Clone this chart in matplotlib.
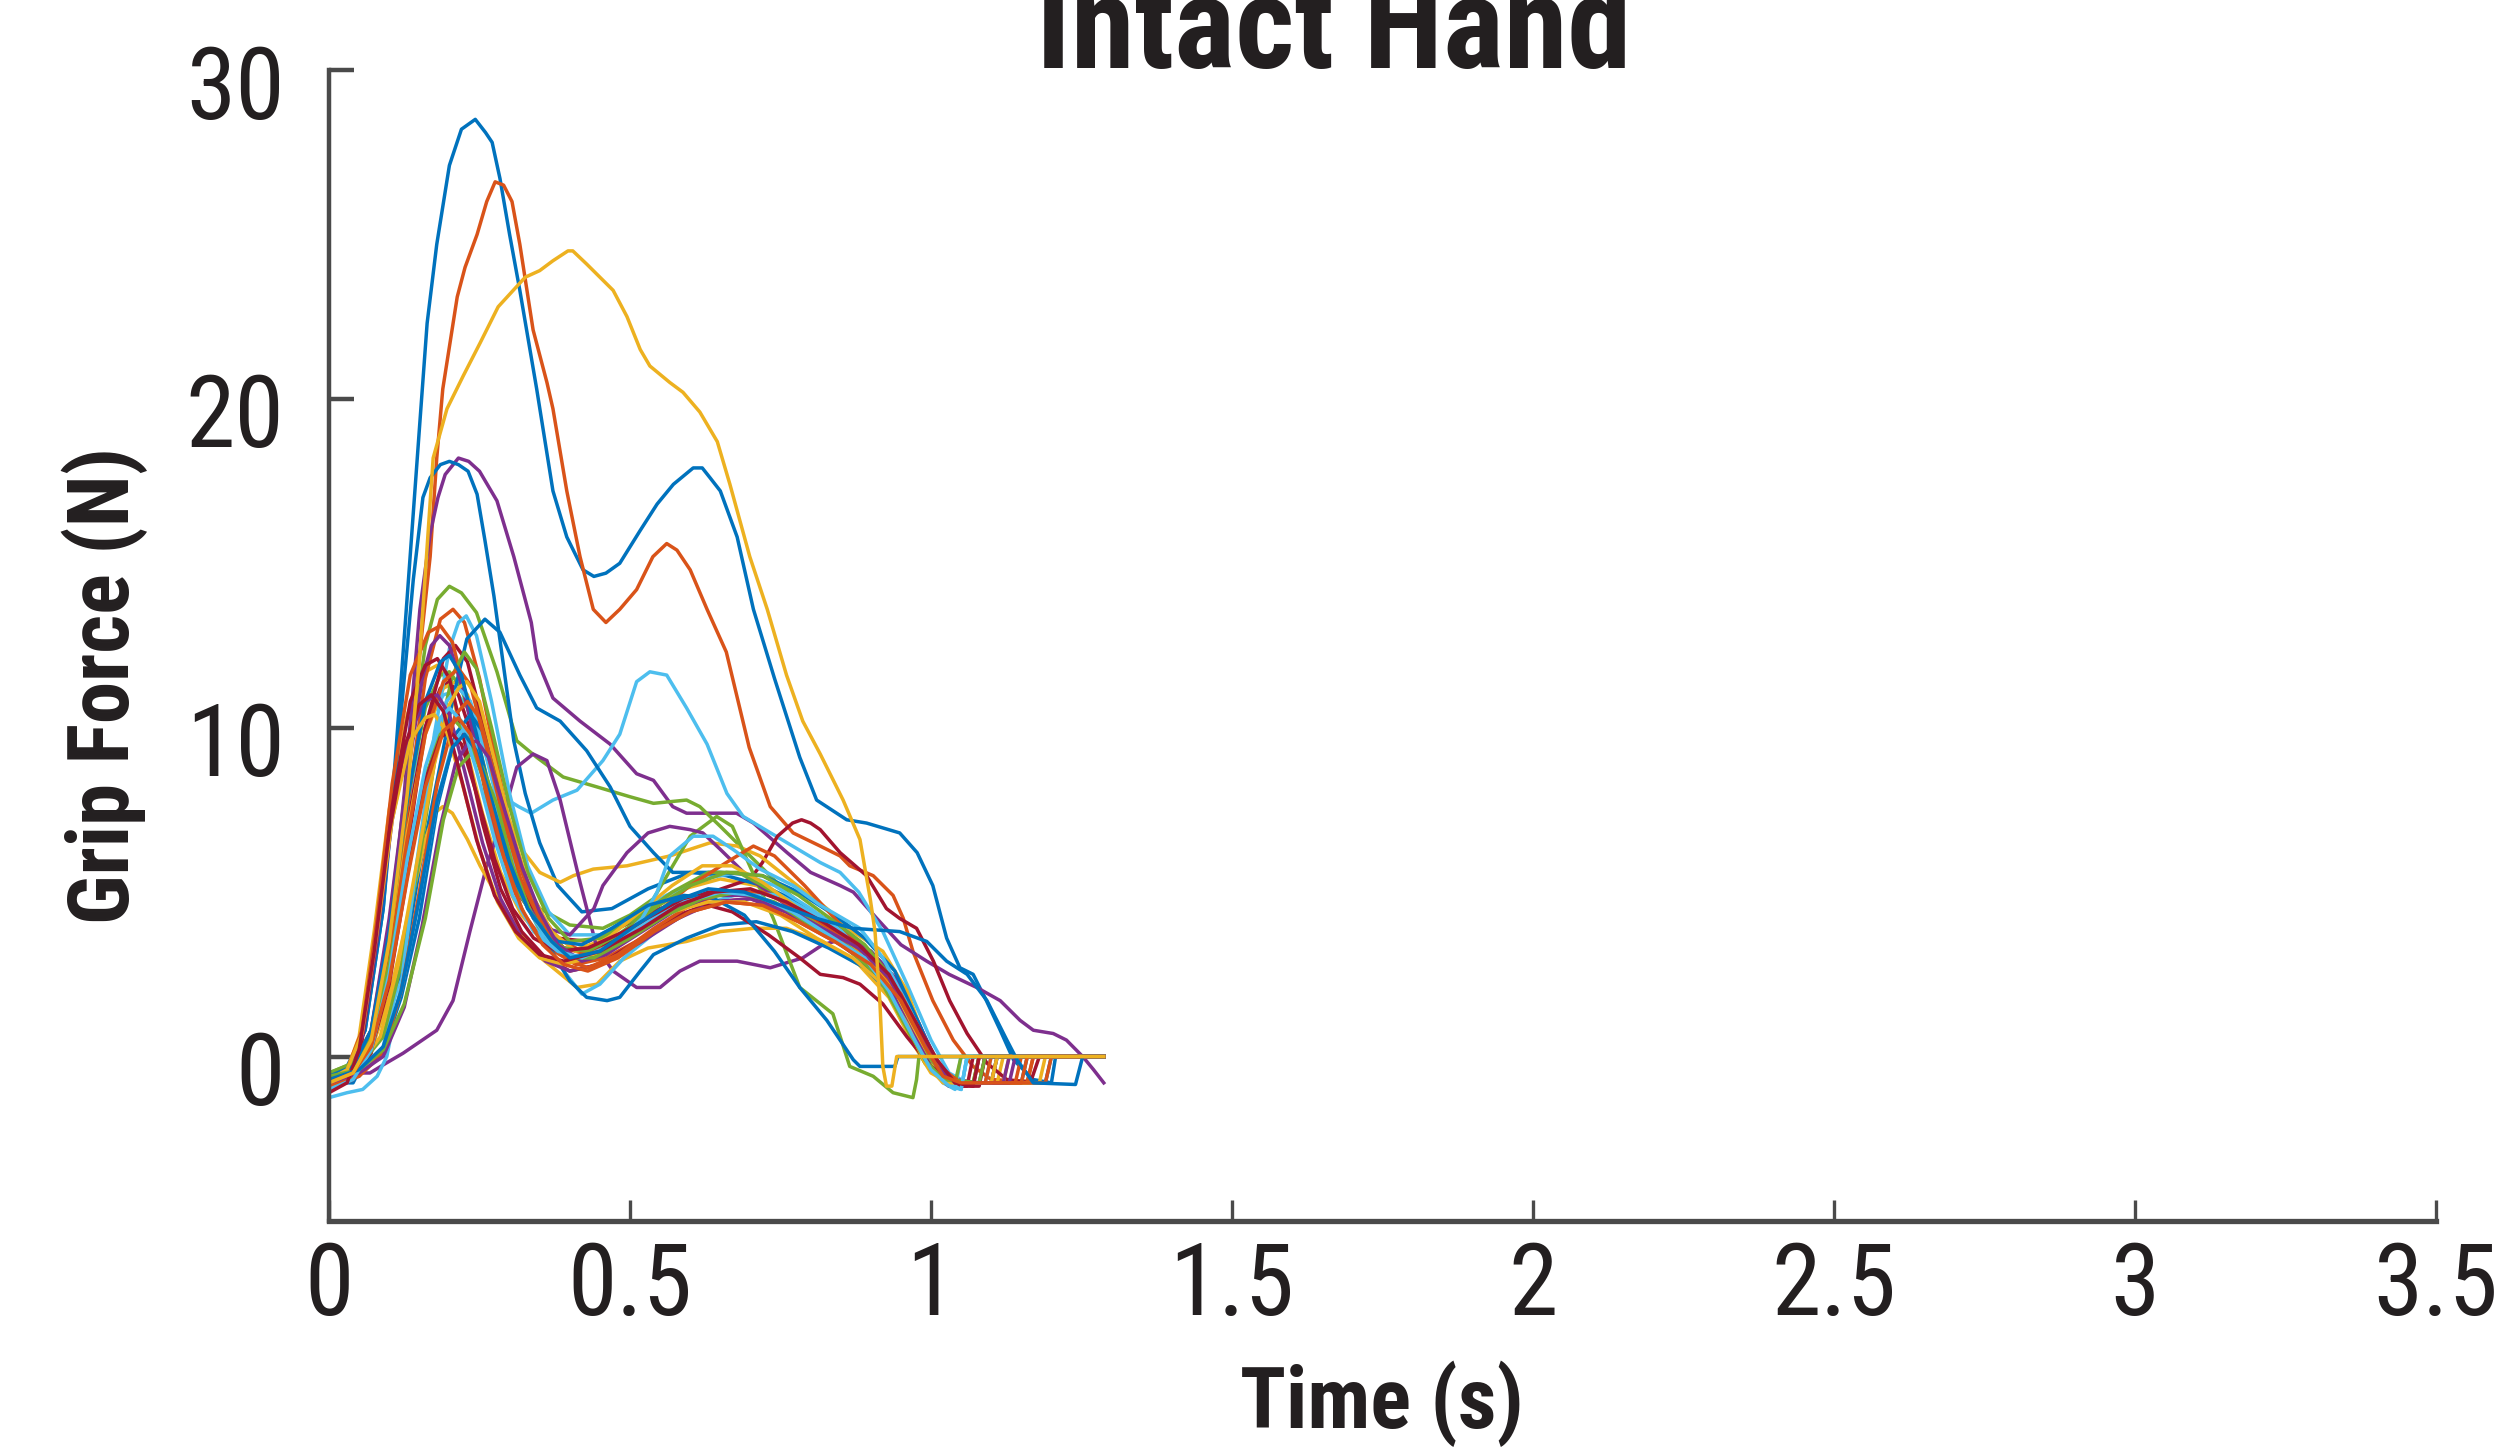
import numpy as np
import matplotlib
matplotlib.use("Agg")
import matplotlib.pyplot as plt
from matplotlib.transforms import ScaledTranslation

# grip force traces, (time s, force N)
trial_01 = [(0.0,-0.6),(0.03,-0.3),(0.06,0.8),(0.09,4.5),(0.11,9.0),(0.13,14.0),(0.151,19.3),(0.163,22.3),(0.179,24.7),(0.20,27.1),(0.22,28.2),(0.243,28.5),(0.26,28.1),(0.271,27.8),(0.284,26.7),(0.30,25.0),(0.317,23.3),(0.345,20.3),(0.372,17.2),(0.395,15.8),(0.422,14.8),(0.44,14.6),(0.46,14.7),(0.483,15.0),(0.517,16.0),(0.545,16.8),(0.572,17.4),(0.605,17.9),(0.62,17.9),(0.633,17.6),(0.65,17.2),(0.678,15.8),(0.705,13.6),(0.74,11.5),(0.782,9.1),(0.81,7.8),(0.86,7.2),(0.893,7.1),(0.948,6.8),(0.977,6.2),(1.003,5.2),(1.026,3.6),(1.048,2.7),(1.07,2.5),(1.092,1.7),(1.115,0.8),(1.137,-0.1),(1.17,-0.7),(1.20,-0.8),(1.207,0.0),(1.287,0.0)]
trial_02 = [(0.0,-0.7),(0.04,-0.4),(0.07,0.5),(0.10,3.5),(0.13,8.5),(0.155,13.0),(0.168,15.2),(0.179,18.2),(0.189,20.3),(0.201,21.7),(0.213,23.1),(0.226,24.0),(0.246,25.0),(0.262,26.0),(0.276,26.6),(0.29,26.5),(0.304,26.0),(0.317,24.7),(0.339,22.1),(0.362,20.5),(0.372,19.7),(0.395,17.2),(0.417,15.2),(0.439,13.6),(0.46,13.2),(0.483,13.6),(0.511,14.2),(0.538,15.2),(0.561,15.6),(0.578,15.4),(0.60,14.8),(0.628,13.6),(0.66,12.3),(0.698,9.4),(0.733,7.6),(0.771,6.8),(0.816,6.4),(0.849,6.1),(0.865,5.8),(0.904,5.5),(0.937,4.9),(0.954,4.2),(0.97,3.2),(1.003,1.7),(1.037,0.5),(1.07,-0.3),(1.10,-0.7),(1.16,-0.75),(1.17,0.0),(1.287,0.0)]
trial_03 = [(0.0,-0.7),(0.03,-0.4),(0.05,0.6),(0.075,3.8),(0.10,7.5),(0.13,10.4),(0.16,11.7),(0.18,11.9),(0.20,11.3),(0.225,9.6),(0.255,7.4),(0.285,5.6),(0.32,4.3),(0.36,3.5),(0.40,3.2),(0.45,3.5),(0.52,4.4),(0.59,5.1),(0.65,5.4),(0.71,5.2),(0.77,4.6),(0.83,3.9),(0.89,3.0),(0.94,1.9),(0.98,0.4),(1.01,-0.5),(1.04,-0.8),(1.11,-0.8),(1.12,0.0),(1.287,0.0)]
trial_04 = [(0.0,-0.6),(0.04,-0.3),(0.07,0.6),(0.10,3.5),(0.125,8.0),(0.151,13.6),(0.168,15.9),(0.181,17.0),(0.193,17.7),(0.215,18.2),(0.232,18.1),(0.25,17.8),(0.279,16.9),(0.307,15.2),(0.336,13.2),(0.345,12.1),(0.372,10.9),(0.417,10.2),(0.467,9.5),(0.511,8.6),(0.539,8.4),(0.571,7.6),(0.594,7.4),(0.638,7.4),(0.677,7.4),(0.705,7.1),(0.761,6.2),(0.80,5.6),(0.849,5.2),(0.871,5.0),(0.91,4.2),(0.95,3.4),(0.993,2.9),(1.03,2.5),(1.076,2.1),(1.115,1.7),(1.148,1.1),(1.17,0.8),(1.203,0.7),(1.225,0.5),(1.252,0.0),(1.27,-0.4),(1.287,-0.8)]
trial_05 = [(0.0,-0.5),(0.04,-0.2),(0.07,0.8),(0.10,4.0),(0.13,8.5),(0.16,12.5),(0.18,13.9),(0.20,14.3),(0.22,14.1),(0.245,13.5),(0.279,11.7),(0.312,9.6),(0.345,9.1),(0.389,8.5),(0.445,8.2),(0.50,7.9),(0.539,7.7),(0.594,7.8),(0.616,7.6),(0.65,7.0),(0.705,6.0),(0.76,5.0),(0.80,4.4),(0.85,3.8),(0.90,3.2),(0.94,2.3),(0.98,0.8),(1.01,-0.3),(1.04,-0.8),(1.07,-0.8),(1.08,0.0),(1.287,0.0)]
trial_06 = [(0.0,-0.6),(0.04,-0.3),(0.07,0.7),(0.10,3.8),(0.13,7.5),(0.16,10.0),(0.19,11.0),(0.21,11.1),(0.235,10.5),(0.26,9.3),(0.288,7.9),(0.315,7.6),(0.336,7.4),(0.372,7.8),(0.412,8.1),(0.455,9.0),(0.483,9.8),(0.511,11.4),(0.533,11.7),(0.561,11.6),(0.594,10.6),(0.628,9.5),(0.661,8.0),(0.688,7.3),(0.761,6.5),(0.816,5.9),(0.849,5.6),(0.88,5.0),(0.92,3.8),(0.96,2.2),(1.0,0.5),(1.03,-0.5),(1.06,-0.8),(1.09,-0.8),(1.10,0.0),(1.287,0.0)]
trial_07 = [(0.0,-0.9),(0.04,-0.6),(0.07,0.3),(0.10,3.0),(0.13,7.0),(0.16,10.0),(0.185,11.2),(0.20,11.4),(0.215,11.0),(0.24,9.6),(0.27,7.5),(0.30,5.6),(0.34,4.2),(0.38,3.6),(0.43,3.5),(0.48,3.9),(0.55,4.5),(0.62,4.9),(0.70,5.4),(0.72,5.9),(0.745,6.7),(0.77,7.1),(0.785,7.2),(0.80,7.1),(0.816,6.9),(0.849,6.2),(0.893,5.5),(0.926,4.5),(0.948,4.2),(0.976,3.9),(1.004,2.9),(1.031,1.7),(1.06,0.7),(1.093,-0.2),(1.126,-0.7),(1.165,-0.8),(1.18,0.0),(1.287,0.0)]
trial_08 = [(0.0,-0.7),(0.03,-0.4),(0.06,0.8),(0.09,4.5),(0.115,9.5),(0.14,14.5),(0.156,17.0),(0.168,17.6),(0.185,18.0),(0.20,18.1),(0.215,18.0),(0.231,17.8),(0.246,17.1),(0.259,15.7),(0.274,14.0),(0.289,12.0),(0.307,9.6),(0.326,8.0),(0.35,6.5),(0.38,5.2),(0.42,4.4),(0.47,4.5),(0.53,5.1),(0.60,5.6),(0.66,5.5),(0.72,5.2),(0.78,4.7),(0.84,4.0),(0.90,3.2),(0.95,2.2),(0.99,0.6),(1.02,-0.5),(1.05,-0.8),(1.10,-0.8),(1.11,0.0),(1.287,0.0)]
trial_09 = [(0.0,-0.8),(0.04,-0.5),(0.07,0.4),(0.10,3.2),(0.13,7.5),(0.16,11.5),(0.185,13.3),(0.206,13.6),(0.225,13.2),(0.25,11.5),(0.28,8.8),(0.31,6.2),(0.34,4.6),(0.38,3.6),(0.42,3.2),(0.46,3.3),(0.52,4.0),(0.58,4.6),(0.64,5.0),(0.70,4.9),(0.76,4.4),(0.82,3.8),(0.88,3.2),(0.93,2.2),(0.97,0.8),(1.0,-0.3),(1.03,-0.8),(1.09,-0.8),(1.10,0.0),(1.287,0.0)]
trial_10 = [(0.0,-0.7),(0.04,-0.4),(0.07,0.5),(0.10,3.0),(0.13,6.8),(0.16,9.8),(0.19,11.2),(0.21,11.4),(0.23,11.0),(0.26,9.4),(0.29,7.6),(0.32,6.3),(0.35,5.6),(0.384,5.3),(0.406,5.5),(0.439,5.7),(0.495,5.8),(0.566,6.1),(0.633,6.5),(0.678,6.4),(0.716,6.1),(0.771,5.3),(0.827,4.5),(0.87,3.8),(0.92,3.2),(0.96,2.0),(0.99,0.5),(1.02,-0.5),(1.05,-0.8),(1.12,-0.8),(1.13,0.0),(1.287,0.0)]
trial_11 = [(0.0,-0.5),(0.04,-0.5),(0.068,-0.5),(0.095,-0.2),(0.123,0.1),(0.179,0.8),(0.206,1.7),(0.234,3.8),(0.262,5.8),(0.289,7.3),(0.312,8.8),(0.339,9.2),(0.362,9.0),(0.384,7.8),(0.417,5.3),(0.445,3.3),(0.472,2.6),(0.511,2.1),(0.55,2.1),(0.583,2.6),(0.616,2.9),(0.678,2.9),(0.733,2.7),(0.787,3.0),(0.82,3.4),(0.86,3.6),(0.90,3.2),(0.94,2.4),(0.98,1.0),(1.01,-0.2),(1.04,-0.7),(1.08,-0.8),(1.09,0.0),(1.287,0.0)]
trial_12 = [(0.0,-0.6),(0.04,-0.3),(0.07,0.7),(0.10,3.6),(0.13,7.8),(0.16,10.6),(0.185,11.6),(0.20,11.7),(0.22,11.2),(0.25,9.4),(0.28,7.2),(0.31,5.6),(0.35,4.5),(0.40,4.0),(0.455,3.9),(0.50,4.3),(0.539,4.8),(0.571,5.8),(0.60,6.7),(0.644,7.3),(0.67,7.0),(0.694,6.0),(0.738,4.2),(0.782,2.1),(0.837,1.3),(0.865,-0.3),(0.904,-0.6),(0.937,-1.1),(0.97,-1.25),(0.976,-0.7),(0.98,0.0),(1.287,0.0)]
trial_13 = [(0.0,-0.9),(0.05,-0.6),(0.09,0.3),(0.12,2.6),(0.15,6.0),(0.175,9.8),(0.20,12.4),(0.215,13.2),(0.228,13.4),(0.245,12.8),(0.27,10.8),(0.30,8.0),(0.33,5.8),(0.365,4.4),(0.40,3.7),(0.45,3.7),(0.50,4.2),(0.56,4.9),(0.62,5.4),(0.68,5.6),(0.74,5.2),(0.80,4.5),(0.86,3.7),(0.91,2.8),(0.95,1.5),(0.99,0.0),(1.02,-0.8),(1.04,-1.0),(1.05,0.0),(1.287,0.0)]
trial_14 = [(0.0,-1.0),(0.04,-0.7),(0.07,0.1),(0.10,2.4),(0.13,6.3),(0.16,10.0),(0.19,12.1),(0.21,12.5),(0.23,12.0),(0.255,10.2),(0.285,7.6),(0.315,5.5),(0.35,4.0),(0.39,3.3),(0.44,3.2),(0.50,3.8),(0.57,4.6),(0.63,5.0),(0.69,5.0),(0.75,4.5),(0.81,3.9),(0.87,3.2),(0.92,2.4),(0.96,1.0),(1.0,-0.3),(1.03,-0.9),(1.06,-0.9),(1.07,0.0),(1.287,0.0)]
trial_15 = [(0.0,-0.8),(0.04,-0.8),(0.068,0.2),(0.095,1.5),(0.123,2.7),(0.151,5.8),(0.184,8.8),(0.206,10.9),(0.229,12.7),(0.259,13.3),(0.284,12.9),(0.317,11.6),(0.345,10.6),(0.384,10.2),(0.428,9.3),(0.467,8.2),(0.50,7.0),(0.539,6.2),(0.571,5.6),(0.65,5.6),(0.72,5.5),(0.78,5.0),(0.84,4.3),(0.89,3.6),(0.94,2.6),(0.98,1.0),(1.01,-0.3),(1.04,-0.8),(1.15,-0.8),(1.16,0.0),(1.287,0.0)]
trial_16 = [(0.0,-0.7),(0.03,-0.4),(0.055,0.8),(0.08,4.2),(0.105,8.3),(0.135,11.6),(0.165,12.9),(0.185,13.1),(0.205,12.6),(0.23,10.8),(0.26,8.0),(0.29,5.8),(0.325,4.3),(0.365,3.3),(0.41,2.8),(0.46,3.0),(0.53,3.7),(0.60,4.4),(0.66,4.7),(0.72,4.6),(0.78,4.1),(0.84,3.5),(0.90,2.9),(0.95,1.8),(0.99,0.3),(1.02,-0.6),(1.05,-0.8),(1.14,-0.8),(1.15,0.0),(1.287,0.0)]
trial_17 = [(0.0,-0.8),(0.04,-0.5),(0.07,0.2),(0.10,1.8),(0.13,4.2),(0.16,6.6),(0.175,7.4),(0.189,7.6),(0.205,7.4),(0.23,6.6),(0.251,5.8),(0.285,4.7),(0.317,3.8),(0.345,3.1),(0.372,2.7),(0.412,2.1),(0.445,2.2),(0.483,2.9),(0.53,3.3),(0.594,3.5),(0.65,3.8),(0.705,3.9),(0.76,3.9),(0.82,3.5),(0.88,2.8),(0.93,1.8),(0.97,0.4),(1.0,-0.5),(1.03,-0.8),(1.10,-0.8),(1.11,0.0),(1.287,0.0)]
trial_18 = [(0.0,-0.6),(0.04,-0.3),(0.07,0.8),(0.10,4.2),(0.13,8.5),(0.155,11.5),(0.17,12.5),(0.184,12.8),(0.20,12.5),(0.225,11.0),(0.255,8.6),(0.285,6.4),(0.32,4.8),(0.36,3.9),(0.40,3.7),(0.44,4.5),(0.455,5.2),(0.495,6.2),(0.53,6.8),(0.566,7.0),(0.60,6.9),(0.621,6.8),(0.65,6.3),(0.70,5.4),(0.76,4.6),(0.82,4.0),(0.88,3.4),(0.93,2.5),(0.97,1.0),(1.0,-0.3),(1.03,-0.8),(1.12,-0.8),(1.13,0.0),(1.287,0.0)]
trial_19 = [(0.0,-0.5),(0.05,-0.3),(0.09,0.6),(0.12,2.8),(0.15,6.0),(0.18,9.5),(0.205,11.6),(0.225,12.3),(0.245,11.8),(0.27,10.0),(0.30,7.6),(0.33,5.6),(0.365,4.2),(0.40,3.5),(0.45,3.6),(0.51,4.2),(0.57,5.0),(0.63,5.6),(0.68,5.6),(0.74,5.0),(0.80,4.2),(0.86,3.5),(0.91,2.6),(0.95,1.2),(0.99,-0.2),(1.02,-0.7),(1.04,-0.8),(1.05,0.0),(1.287,0.0)]
trial_20 = [(0.0,-1.25),(0.03,-1.1),(0.056,-1.0),(0.08,-0.6),(0.096,0.0),(0.12,2.2),(0.145,5.8),(0.17,9.0),(0.195,10.8),(0.215,11.2),(0.235,10.8),(0.26,9.2),(0.29,7.0),(0.32,5.0),(0.355,3.6),(0.39,2.6),(0.42,1.9),(0.45,2.2),(0.49,3.0),(0.55,3.9),(0.62,4.6),(0.69,5.0),(0.75,4.9),(0.81,4.3),(0.87,3.5),(0.92,2.6),(0.96,1.3),(1.0,0.0),(1.03,-0.8),(1.05,-1.0),(1.06,0.0),(1.287,0.0)]
trial_21 = [(0.0,-0.9),(0.03,-0.6),(0.055,0.5),(0.08,3.6),(0.105,7.6),(0.135,10.8),(0.16,11.9),(0.18,12.1),(0.20,11.5),(0.225,9.6),(0.255,7.1),(0.285,5.1),(0.32,3.8),(0.36,3.0),(0.40,2.6),(0.45,2.8),(0.52,3.6),(0.58,4.3),(0.64,4.7),(0.70,4.8),(0.76,4.4),(0.82,3.8),(0.88,3.0),(0.93,2.0),(0.97,0.6),(1.0,-0.4),(1.03,-0.9),(1.08,-0.9),(1.09,0.0),(1.287,0.0)]
trial_22 = [(0.0,-0.7),(0.05,-0.5),(0.09,0.2),(0.12,1.8),(0.15,4.2),(0.18,7.6),(0.21,9.8),(0.235,10.4),(0.255,9.9),(0.28,8.4),(0.31,6.4),(0.34,4.6),(0.37,3.2),(0.40,2.3),(0.428,1.8),(0.462,1.7),(0.483,1.8),(0.517,2.6),(0.539,3.1),(0.594,3.6),(0.65,4.0),(0.71,4.1),(0.77,3.8),(0.83,3.3),(0.89,2.7),(0.94,1.8),(0.98,0.4),(1.01,-0.5),(1.04,-0.8),(1.19,-0.8),(1.20,0.0),(1.287,0.0)]
trial_23 = [(0.0,-0.8),(0.04,-0.5),(0.07,0.4),(0.10,2.9),(0.13,6.6),(0.16,9.8),(0.19,11.4),(0.215,11.8),(0.235,11.3),(0.26,9.5),(0.29,7.2),(0.32,5.3),(0.355,4.0),(0.39,3.3),(0.43,3.1),(0.48,3.5),(0.54,4.3),(0.60,5.2),(0.66,5.9),(0.705,6.4),(0.74,6.1),(0.79,5.2),(0.84,4.2),(0.89,3.2),(0.94,2.0),(0.98,0.6),(1.01,-0.4),(1.04,-0.8),(1.16,-0.8),(1.17,0.0),(1.287,0.0)]
trial_24 = [(0.0,-0.6),(0.05,-0.3),(0.085,0.6),(0.115,2.8),(0.145,5.8),(0.175,8.9),(0.20,10.7),(0.215,11.2),(0.229,11.4),(0.25,10.8),(0.275,9.0),(0.305,6.8),(0.335,5.0),(0.37,3.8),(0.41,3.2),(0.45,3.4),(0.51,4.3),(0.57,5.2),(0.62,5.8),(0.67,5.8),(0.72,5.3),(0.78,4.5),(0.84,3.8),(0.89,3.1),(0.94,2.0),(0.98,0.5),(1.01,-0.5),(1.04,-0.8),(1.18,-0.8),(1.19,0.0),(1.287,0.0)]
trial_25 = [(0.0,-0.7),(0.03,-0.4),(0.055,0.6),(0.08,3.6),(0.105,7.2),(0.135,9.9),(0.16,10.8),(0.18,11.0),(0.20,10.4),(0.225,8.7),(0.255,6.5),(0.285,4.8),(0.32,3.6),(0.36,2.9),(0.40,2.6),(0.45,2.8),(0.52,3.5),(0.58,4.2),(0.64,4.7),(0.70,4.8),(0.76,4.4),(0.82,3.8),(0.88,3.1),(0.93,2.1),(0.97,0.7),(1.0,-0.3),(1.03,-0.8),(1.10,-0.8),(1.11,0.0),(1.287,0.0)]
trial_26 = [(0.0,-0.5),(0.04,-0.2),(0.07,0.6),(0.10,2.8),(0.13,5.8),(0.16,8.5),(0.185,9.8),(0.21,10.2),(0.23,9.8),(0.255,8.5),(0.285,6.6),(0.315,5.0),(0.35,3.9),(0.39,3.3),(0.43,3.2),(0.48,3.7),(0.54,4.5),(0.60,5.2),(0.66,5.6),(0.72,5.5),(0.78,4.9),(0.84,4.1),(0.89,3.4),(0.93,2.5),(0.97,1.1),(1.0,-0.1),(1.03,-0.7),(1.08,-0.8),(1.09,0.0),(1.287,0.0)]
trial_27 = [(0.0,-0.8),(0.05,-0.5),(0.09,0.2),(0.12,2.0),(0.15,4.8),(0.18,7.8),(0.205,9.5),(0.225,10.0),(0.245,9.5),(0.27,8.0),(0.30,6.0),(0.33,4.5),(0.365,3.5),(0.40,3.1),(0.43,3.0),(0.48,3.5),(0.52,4.2),(0.545,5.0),(0.566,6.1),(0.605,6.7),(0.638,6.7),(0.671,6.3),(0.716,5.7),(0.771,5.2),(0.816,4.6),(0.882,3.9),(0.92,3.0),(0.96,1.6),(1.0,0.1),(1.03,-0.8),(1.05,-1.0),(1.06,0.0),(1.287,0.0)]
trial_28 = [(0.0,-1.0),(0.04,-0.7),(0.07,0.2),(0.10,2.2),(0.13,5.5),(0.16,8.4),(0.185,9.7),(0.20,9.9),(0.22,9.5),(0.245,8.0),(0.275,6.0),(0.305,4.5),(0.34,3.6),(0.38,3.2),(0.43,3.3),(0.49,3.8),(0.55,4.4),(0.61,4.7),(0.67,4.4),(0.73,3.7),(0.782,3.0),(0.816,2.5),(0.854,2.4),(0.882,2.2),(0.92,1.6),(0.96,0.6),(1.0,-0.3),(1.04,-0.8),(1.07,-0.9),(1.08,0.0),(1.287,0.0)]
trial_29 = [(0.0,-0.6),(0.04,-0.3),(0.07,0.8),(0.10,3.8),(0.13,7.8),(0.16,10.8),(0.185,12.0),(0.20,12.2),(0.22,11.6),(0.245,9.8),(0.275,7.4),(0.305,5.5),(0.34,4.2),(0.38,3.5),(0.42,3.4),(0.47,3.9),(0.53,4.6),(0.59,4.9),(0.64,4.8),(0.69,4.3),(0.74,3.2),(0.782,2.1),(0.827,1.1),(0.871,-0.1),(0.882,-0.3),(0.94,-0.3),(0.945,0.0),(1.287,0.0)]
trial_30 = [(0.0,-0.9),(0.05,-0.6),(0.09,0.1),(0.12,2.0),(0.15,5.0),(0.18,8.3),(0.21,10.4),(0.23,10.8),(0.25,10.3),(0.275,8.6),(0.305,6.5),(0.335,4.8),(0.37,3.6),(0.40,2.9),(0.43,2.7),(0.48,3.1),(0.54,3.9),(0.60,4.6),(0.66,5.0),(0.72,5.0),(0.78,4.5),(0.84,3.8),(0.90,3.0),(0.95,1.9),(0.99,0.5),(1.02,-0.4),(1.05,-0.8),(1.19,-0.8),(1.20,0.0),(1.287,0.0)]
trial_31 = [(0.0,-0.7),(0.03,-0.4),(0.055,0.7),(0.08,3.8),(0.105,7.2),(0.135,9.6),(0.16,10.3),(0.175,10.4),(0.195,9.9),(0.22,8.4),(0.25,6.3),(0.28,4.7),(0.315,3.6),(0.35,3.0),(0.39,2.8),(0.43,3.0),(0.51,3.8),(0.57,4.4),(0.63,4.7),(0.69,4.7),(0.75,4.3),(0.81,3.6),(0.87,3.0),(0.92,2.2),(0.96,1.0),(0.99,-0.2),(1.02,-0.8),(1.10,-0.8),(1.11,0.0),(1.287,0.0)]
trial_32 = [(0.0,-0.8),(0.05,-0.5),(0.09,0.0),(0.125,1.5),(0.155,4.0),(0.185,7.0),(0.21,8.9),(0.23,9.5),(0.245,9.6),(0.265,9.1),(0.29,7.6),(0.32,5.8),(0.35,4.4),(0.38,3.4),(0.42,2.9),(0.46,3.1),(0.52,3.8),(0.58,4.5),(0.64,4.9),(0.70,4.9),(0.76,4.5),(0.82,3.9),(0.88,3.3),(0.93,2.4),(0.97,1.0),(1.01,-0.3),(1.04,-0.8),(1.13,-0.8),(1.14,0.0),(1.287,0.0)]
trial_33 = [(0.0,-0.6),(0.05,-0.4),(0.09,0.2),(0.125,1.6),(0.16,4.2),(0.19,7.2),(0.215,8.8),(0.235,9.2),(0.255,8.8),(0.28,7.6),(0.305,5.8),(0.335,4.4),(0.37,3.5),(0.40,3.0),(0.44,3.0),(0.50,3.6),(0.56,4.3),(0.62,4.8),(0.68,5.0),(0.74,4.7),(0.80,4.0),(0.86,3.3),(0.91,2.5),(0.95,1.2),(0.99,-0.1),(1.02,-0.7),(1.07,-0.8),(1.08,0.0),(1.287,0.0)]
trial_34 = [(0.0,-1.0),(0.04,-0.7),(0.07,0.2),(0.10,2.5),(0.13,6.0),(0.16,8.8),(0.185,10.3),(0.20,10.6),(0.22,10.2),(0.245,8.7),(0.275,6.6),(0.305,4.9),(0.34,3.8),(0.38,3.2),(0.42,3.0),(0.47,3.4),(0.53,4.1),(0.59,4.7),(0.65,5.0),(0.71,4.9),(0.77,4.4),(0.83,3.7),(0.89,3.0),(0.93,2.0),(0.97,0.6),(1.0,-0.4),(1.03,-0.9),(1.05,-1.0),(1.06,0.0),(1.287,0.0)]
trial_35 = [(0.0,-1.1),(0.03,-0.8),(0.05,0.2),(0.075,3.2),(0.10,6.8),(0.125,9.4),(0.15,10.7),(0.17,11.0),(0.19,10.5),(0.215,8.8),(0.245,6.6),(0.275,4.9),(0.31,3.8),(0.35,3.1),(0.39,2.9),(0.45,3.2),(0.52,3.9),(0.58,4.6),(0.64,5.0),(0.70,5.1),(0.76,4.7),(0.82,4.1),(0.88,3.4),(0.93,2.5),(0.97,1.2),(1.01,-0.1),(1.04,-0.8),(1.07,-0.9),(1.08,0.0),(1.287,0.0)]
trial_36 = [(0.0,-0.7),(0.05,-0.4),(0.09,0.3),(0.12,2.0),(0.15,4.8),(0.18,7.8),(0.205,9.4),(0.225,9.8),(0.245,9.3),(0.27,7.8),(0.30,5.9),(0.33,4.5),(0.37,3.5),(0.40,3.0),(0.45,3.2),(0.51,4.0),(0.57,4.7),(0.63,5.1),(0.69,5.0),(0.75,4.6),(0.81,4.2),(0.87,3.9),(0.948,3.8),(0.993,3.5),(1.026,2.9),(1.06,2.5),(1.093,1.7),(1.126,0.5),(1.143,-0.1),(1.17,-0.8),(1.24,-0.85),(1.252,0.0),(1.287,0.0)]
trial_37 = [(0.0,-0.8),(0.04,-0.5),(0.07,0.3),(0.10,2.3),(0.13,5.4),(0.16,8.2),(0.19,9.9),(0.215,10.3),(0.235,9.8),(0.26,8.2),(0.29,6.1),(0.32,4.5),(0.355,3.4),(0.39,2.8),(0.43,2.6),(0.48,3.0),(0.54,3.8),(0.60,4.4),(0.66,4.7),(0.72,4.6),(0.78,4.1),(0.84,3.5),(0.90,2.8),(0.95,1.7),(0.99,0.3),(1.02,-0.6),(1.05,-0.8),(1.15,-0.8),(1.16,0.0),(1.287,0.0)]
trial_38 = [(0.0,-0.8),(0.04,-0.5),(0.07,0.5),(0.10,3.5),(0.13,8.0),(0.15,12.0),(0.163,15.5),(0.173,18.2),(0.196,19.7),(0.223,20.7),(0.251,21.7),(0.281,22.8),(0.301,23.2),(0.326,23.7),(0.35,23.9),(0.372,24.2),(0.397,24.5),(0.405,24.5),(0.428,24.1),(0.45,23.7),(0.472,23.3),(0.495,22.5),(0.517,21.5),(0.533,21.0),(0.566,20.5),(0.588,20.2),(0.616,19.6),(0.645,18.7),(0.666,17.4),(0.699,15.2),(0.728,13.6),(0.76,11.6),(0.787,10.2),(0.816,9.2),(0.854,7.8),(0.882,6.6),(0.899,4.8),(0.907,3.8),(0.915,1.7),(0.92,-0.3),(0.926,-0.9),(0.935,-0.9),(0.943,0.0),(1.287,0.0)]

trials = [trial_01, trial_02, trial_03, trial_04, trial_05, trial_06, trial_07, trial_08,
          trial_09, trial_10, trial_11, trial_12, trial_13, trial_14, trial_15, trial_16,
          trial_17, trial_18, trial_19, trial_20, trial_21, trial_22, trial_23, trial_24,
          trial_25, trial_26, trial_27, trial_28, trial_29, trial_30, trial_31, trial_32,
          trial_33, trial_34, trial_35, trial_36, trial_37, trial_38]

x_ticks = [0, 0.5, 1, 1.5, 2, 2.5, 3, 3.5]
x_ticklabels = ['0', '0.5', '1', '1.5', '2', '2.5', '3', '3.5']
y_ticks = [0, 10, 20, 30]
y_ticklabels = ['0', '10', '20', '30']

# matlab default line colours
matlab_colors = ['#0072BD', '#D95319', '#EDB120', '#7E2F8E', '#77AC30', '#4DBEEE', '#A2142F']

font = ['Nimbus Sans Narrow', 'Liberation Sans Narrow', 'Roboto Condensed',
        'Encode Sans Semi Condensed', 'DejaVu Sans']
axis_col = '#4a4a4a'
text_col = '#231f20'

fig = plt.figure(figsize=(25, 14.53), dpi=100)
ax = fig.add_axes([0.1316, 0.1597, 0.8428, 0.7921])

for i, tr in enumerate(trials):
    arr = np.array(tr)
    ax.plot(arr[:, 0], arr[:, 1], color=matlab_colors[i % 7], lw=2.5, solid_joinstyle='round')

ax.set_xlim(0, 3.5)
ax.set_ylim(-5, 30)
ax.set_xticks(x_ticks)
ax.set_xticklabels(x_ticklabels, fontfamily=font, fontsize=72, color=text_col)
ax.set_yticks(y_ticks)
ax.set_yticklabels(y_ticklabels, fontfamily=font, fontsize=72, color=text_col)

for s in ['top', 'right']:
    ax.spines[s].set_visible(False)
ax.spines['left'].set_linewidth(3.2)
ax.spines['bottom'].set_linewidth(3.8)
ax.spines['left'].set_color(axis_col)
ax.spines['bottom'].set_color(axis_col)
ax.tick_params(axis='x', direction='in', length=15, width=2.4, color=axis_col, pad=14)
ax.tick_params(axis='y', direction='in', length=18, width=3.2, color=axis_col, pad=32)

# matlab draws the y labels a touch below their ticks
shift = ScaledTranslation(0, -0.11, fig.dpi_scale_trans)
for lbl in ax.get_yticklabels():
    lbl.set_transform(lbl.get_transform() + shift)

fig.text(0.5528, 0.0172, 'Time (s)', ha='center', va='baseline', fontfamily=font,
         fontweight='bold', fontsize=61, color=text_col)
fig.text(0.042, 0.528, 'Grip Force (N)', ha='center', va='center', rotation=90,
         fontfamily=font, fontweight='bold', fontsize=61, color=text_col)
fig.text(0.5333, 0.9532, 'Intact Hand', ha='center', va='baseline', fontfamily=font,
         fontweight='bold', fontsize=93, color=text_col)

fig.savefig('out.png', dpi=100, facecolor='white')
